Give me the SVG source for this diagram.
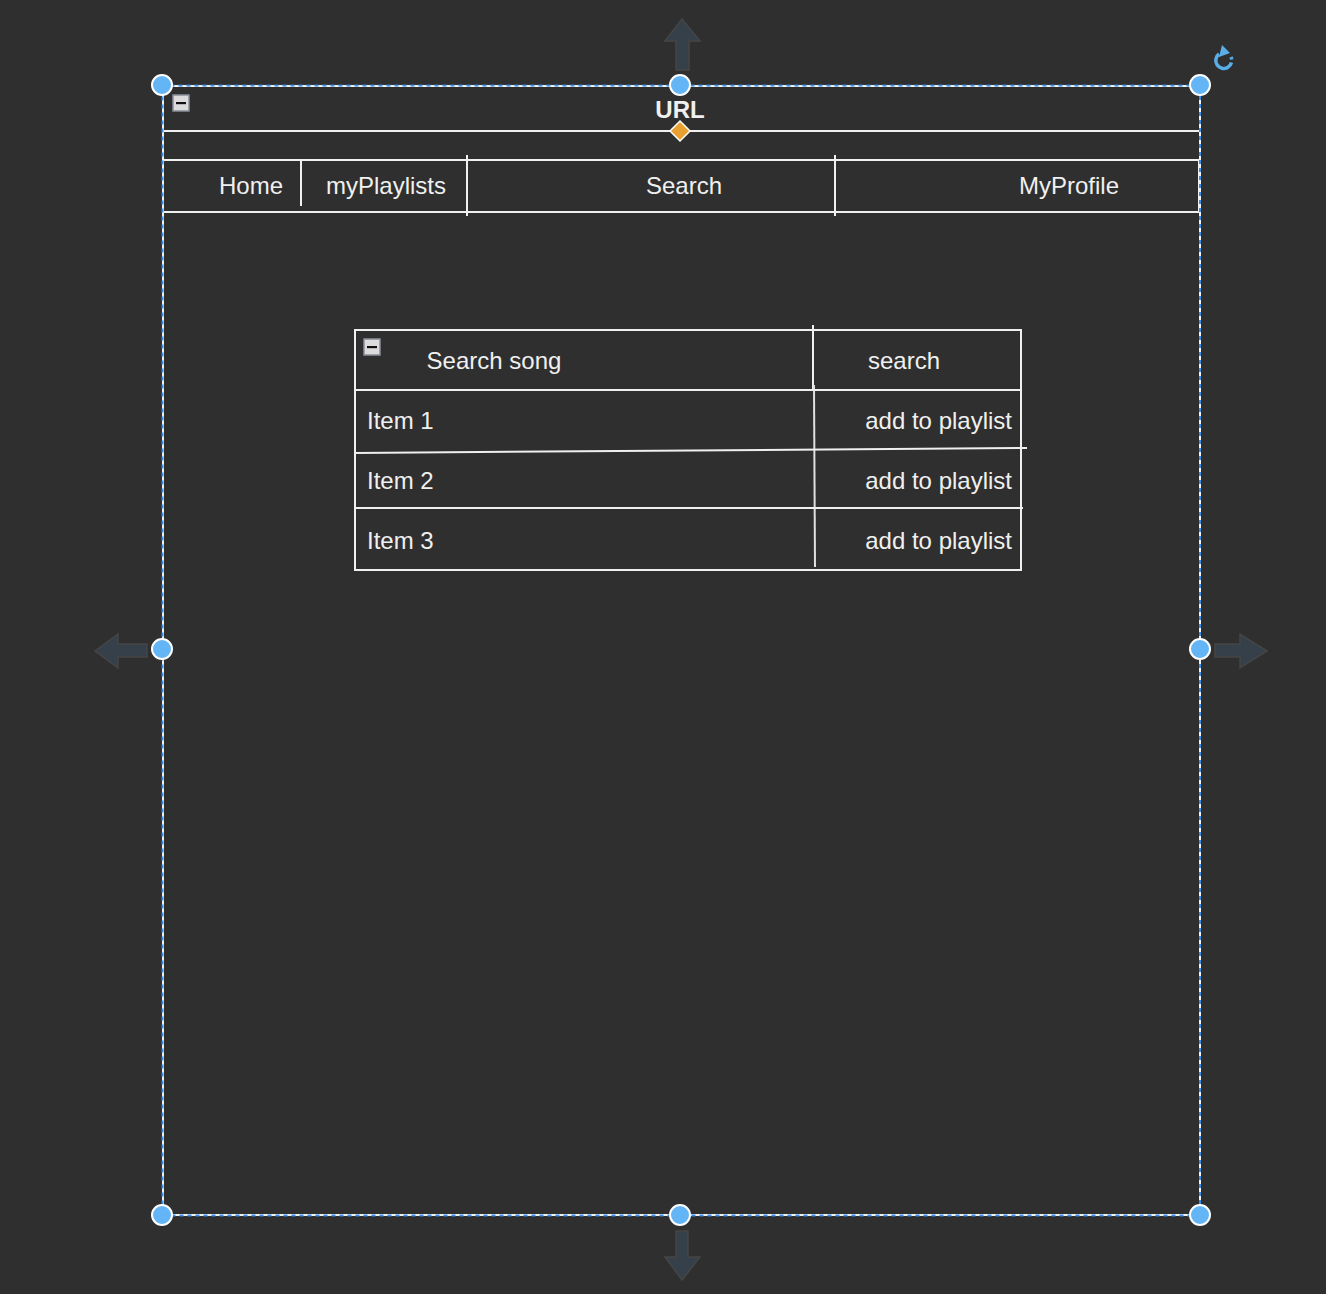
<svg xmlns="http://www.w3.org/2000/svg" width="1326" height="1294" viewBox="0 0 1326 1294">
<style>
.ln{stroke:#f0f0f0;stroke-width:2;fill:none}
.tx{font-family:"Liberation Sans",Arial,sans-serif;font-size:24px;fill:#f0f0f0}
.hd{fill:#64b5f6;stroke:#ffffff;stroke-width:2}
.ar{fill:#36404a;stroke:#454545;stroke-width:1.5}
.sel{stroke:#3a8ee6;stroke-width:2;stroke-dasharray:4 4;fill:none}
</style>
<defs>
<g id="minus">
<rect x="0" y="0" width="16" height="16" fill="#dcdcdc" stroke="#8a8f99" stroke-width="1.5"/>
<rect x="3" y="7" width="10" height="2.2" fill="#111"/>
</g>
</defs>
<rect width="1326" height="1294" fill="#2f2f2f"/>

<g id="frame">
<rect x="163" y="86" width="1037" height="1129" class="ln"/>
<line x1="163" y1="131" x2="1200" y2="131" class="ln"/>
<use href="#minus" x="173" y="95"/>
<text x="680" y="118" class="tx" font-weight="bold" text-anchor="middle">URL</text>
</g>

<g id="navbar">
<rect x="163" y="160" width="1036" height="52" class="ln"/>
<line x1="301" y1="160" x2="301" y2="206" class="ln"/>
<line x1="467" y1="155" x2="467" y2="216" class="ln"/>
<line x1="835" y1="155" x2="835" y2="216" class="ln"/>
<text x="251" y="194" class="tx" text-anchor="middle">Home</text>
<text x="386" y="194" class="tx" text-anchor="middle">myPlaylists</text>
<text x="684" y="194" class="tx" text-anchor="middle">Search</text>
<text x="1069" y="194" class="tx" text-anchor="middle">MyProfile</text>
</g>

<g id="searchtable">
<rect x="355" y="330" width="666" height="240" class="ln"/>
<line x1="813" y1="325" x2="813" y2="390" class="ln"/>
<line x1="814" y1="385" x2="815" y2="567" stroke="#e0e0e0" stroke-width="2"/>
<line x1="355" y1="390" x2="1021" y2="390" class="ln"/>
<line x1="355" y1="453" x2="1027" y2="448" class="ln"/>
<line x1="355" y1="508" x2="1023" y2="508" class="ln"/>
<use href="#minus" x="364" y="339"/>
<text x="494" y="369" class="tx" text-anchor="middle">Search song</text>
<text x="904" y="369" class="tx" text-anchor="middle">search</text>
<text x="367" y="429" class="tx">Item 1</text>
<text x="367" y="489" class="tx">Item 2</text>
<text x="367" y="549" class="tx">Item 3</text>
<text x="1012" y="429" class="tx" text-anchor="end">add to playlist</text>
<text x="1012" y="489" class="tx" text-anchor="end">add to playlist</text>
<text x="1012" y="549" class="tx" text-anchor="end">add to playlist</text>
</g>

<g id="selection">
<rect x="162.5" y="85.5" width="1037.5" height="1130" class="sel"/>
<g id="arrows">
<polygon class="ar" points="682,19 700,41 689,41 689,70 676,70 676,41 665,41"/>
<polygon class="ar" points="682,1280 700,1257 688,1257 688,1231 676,1231 676,1257 665,1257"/>
<polygon class="ar" points="95,651 118,634 118,644 147,644 147,657 118,657 118,668"/>
<polygon class="ar" points="1267,651 1240,634 1240,644 1215,644 1215,657 1240,657 1240,668"/>
</g>
<polygon points="680,121 690,131 680,141 670,131" fill="#e8a030" stroke="#ffffff" stroke-width="1.5"/>
<circle cx="162" cy="85" r="10" class="hd"/>
<circle cx="680" cy="85" r="10" class="hd"/>
<circle cx="1200" cy="85" r="10" class="hd"/>
<circle cx="162" cy="649" r="10" class="hd"/>
<circle cx="1200" cy="649" r="10" class="hd"/>
<circle cx="162" cy="1215" r="10" class="hd"/>
<circle cx="680" cy="1215" r="10" class="hd"/>
<circle cx="1200" cy="1215" r="10" class="hd"/>
<g id="rotate">
<path d="M1219,54 A8,8 0 1 0 1231,57" fill="none" stroke="#5aaee8" stroke-width="3.5" stroke-dasharray="30 3 3 3"/>
<polygon points="1222,45 1230,53 1219,57" fill="#5aaee8"/>
</g>
</g>
</svg>
